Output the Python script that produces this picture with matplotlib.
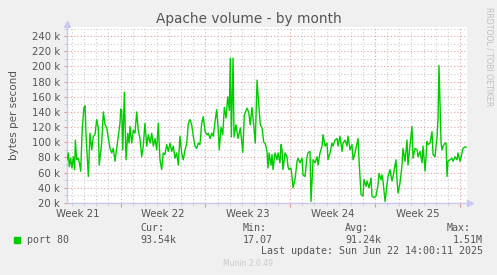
import datetime as dt
import matplotlib
matplotlib.use('Agg')
import matplotlib.pyplot as plt
import matplotlib.dates as mdates
from matplotlib.patches import Rectangle
from matplotlib.ticker import MultipleLocator, FuncFormatter

# time axis: month graph = 33 days ending at last update
end = dt.datetime(2025, 6, 22, 14, 0, 11)
start = end - dt.timedelta(days=33)

# days after start, and traffic in k bytes/s
days = [0.00, 0.11, 0.19, 0.30, 0.41, 0.52, 0.63, 0.69, 0.80, 0.91, 1.02, 1.13,
        1.26, 1.40, 1.49, 1.57, 1.76, 1.90, 2.04, 2.17, 2.31, 2.45, 2.58, 2.66,
        2.86, 3.00, 3.14, 3.28, 3.41, 3.55, 3.69, 3.82, 3.96, 4.10, 4.23, 4.37,
        4.43, 4.51, 4.60, 4.73, 4.87, 5.01, 5.12, 5.20, 5.34, 5.47, 5.61, 5.75,
        5.88, 6.02, 6.16, 6.29, 6.43, 6.58, 6.71, 6.85, 6.99, 7.12, 7.26, 7.40,
        7.53, 7.67, 7.81, 7.94, 8.08, 8.23, 8.36, 8.50, 8.64, 8.77, 8.91, 9.05,
        9.18, 9.32, 9.46, 9.59, 9.74, 9.88, 10.01, 10.15, 10.29, 10.42, 10.56,
        10.70, 10.83, 10.97, 11.11, 11.24, 11.39, 11.53, 11.66, 11.80, 11.94,
        12.07, 12.21, 12.35, 12.48, 12.56, 12.71, 12.85, 12.98, 13.12, 13.26,
        13.39, 13.47, 13.56, 13.70, 13.78, 13.94, 14.11, 14.30, 14.50, 14.63,
        14.85, 14.99, 15.12, 15.26, 15.40, 15.53, 15.68, 15.82, 15.95, 16.09,
        16.23, 16.34, 16.50, 16.58, 16.67, 16.83, 16.91, 17.00, 17.16, 17.33,
        17.41, 17.57, 17.66, 17.74, 17.82, 17.99, 18.15, 18.23, 18.32, 18.48,
        18.56, 18.65, 18.81, 18.98, 19.06, 19.22, 19.39, 19.47, 19.64, 19.80,
        19.88, 20.05, 20.13, 20.30, 20.46, 20.63, 20.71, 20.87, 21.04, 21.12,
        21.29, 21.45, 21.53, 21.70, 21.86, 21.95, 22.11, 22.28, 22.36, 22.52,
        22.69, 22.77, 22.94, 23.10, 23.18, 23.35, 23.51, 23.60, 23.76, 23.93,
        24.01, 24.09, 24.26, 24.42, 24.50, 24.67, 24.75, 24.92, 25.08, 25.16,
        25.33, 25.49, 25.66, 25.74, 25.91, 25.99, 26.07, 26.24, 26.40, 26.48,
        26.65, 26.81, 26.90, 27.14, 27.23, 27.31, 27.47, 27.64, 27.72, 27.89,
        28.05, 28.13, 28.30, 28.46, 28.55, 28.71, 28.88, 28.96, 29.12, 29.29,
        29.37, 29.54, 29.70, 29.78, 29.95, 30.11, 30.20, 30.36, 30.53, 30.61,
        30.69, 30.86, 30.94, 31.02, 31.19, 31.27, 31.35, 31.43, 31.60, 31.76,
        31.85, 32.01, 32.18, 32.26, 32.42, 32.59, 32.67, 32.84, 32.92]
volume_k = [77, 86, 68, 79, 66, 81, 64, 103, 77, 79, 73, 62,
            119, 146, 148, 110, 55, 112, 90, 108, 110, 130, 119, 70,
            99, 140, 123, 119, 105, 92, 86, 92, 75, 92, 108, 125,
            144, 142, 90, 166, 77, 112, 99, 121, 99, 116, 112, 140,
            116, 105, 81, 95, 125, 95, 110, 99, 112, 95, 105, 90,
            125, 77, 64, 86, 84, 97, 88, 99, 88, 95, 79, 86,
            70, 108, 86, 77, 90, 99, 125, 130, 123, 108, 95,
            92, 99, 97, 125, 134, 114, 110, 112, 105, 112,
            108, 127, 143, 116, 90, 120, 110, 146, 132, 160,
            142, 211, 107, 211, 107, 123, 105, 119, 87, 136,
            145, 140, 123, 146, 123, 99, 182, 149, 123, 119,
            100, 99, 88, 66, 86, 70, 84, 64, 86, 77,
            86, 73, 97, 90, 64, 86, 81, 68, 64, 66,
            55, 40, 51, 75, 79, 73, 79, 57, 55, 81,
            86, 88, 22, 77, 73, 81, 70, 86, 95, 110,
            95, 99, 77, 86, 99, 95, 103, 105, 95, 108,
            88, 99, 103, 95, 108, 90, 97, 77, 86, 99,
            105, 77, 31, 29, 51, 42, 49, 40, 53, 29,
            27, 29, 44, 59, 51, 57, 49, 22, 44, 55,
            64, 49, 55, 77, 49, 33, 46, 70, 92, 75,
            103, 70, 97, 121, 79, 92, 90, 81, 88, 73,
            95, 62, 101, 97, 99, 114, 84, 81, 108, 130,
            201, 99, 90, 95, 99, 99, 55, 75, 77, 79,
            75, 81, 77, 86, 75, 86, 92, 94, 93.5]

week_labels = ['Week 21', 'Week 22', 'Week 23', 'Week 24', 'Week 25']
stat_names = ['Cur:', 'Min:', 'Avg:', 'Max:']
stat_values = ['93.54k', '17.07', '91.24k', '1.51M']

times = [start + dt.timedelta(days=d) for d in days]
volume = [v * 1000 for v in volume_k]

text_col = '#555555'
W, H = 497, 275
fig = plt.figure(figsize=(W / 100, H / 100), dpi=100, facecolor='#F0F0F0')
ax = fig.add_axes([67 / W, 1 - 203 / H, 400 / W, 176 / H])
ax.set_facecolor('white')

ax.plot(times, volume, color='#00CC00', lw=1.0, zorder=3)

ax.set_xlim(start, end)
ax.set_ylim(20000, 252000)

# grids: days + sundays on x, 10k/20k on y
ax.xaxis.set_major_locator(mdates.WeekdayLocator(byweekday=mdates.SU))
ax.xaxis.set_minor_locator(mdates.DayLocator())
ax.xaxis.set_major_formatter(plt.NullFormatter())
ax.yaxis.set_major_locator(MultipleLocator(20000))
ax.yaxis.set_minor_locator(MultipleLocator(10000))
ax.yaxis.set_major_formatter(FuncFormatter(lambda v, p: '%d k' % round(v / 1000)))

ax.grid(which='minor', color='#CCCCCC', ls=(0, (1, 2)), lw=0.8)
ax.grid(which='major', color='#E8A0A0', ls=(0, (1, 2)), lw=0.8)
ax.set_axisbelow(True)

ax.tick_params(which='both', colors='#CCCCCC', labelcolor=text_col, labelsize=7.3)
ax.tick_params(axis='x', which='major', length=3, color='#E89090')
ax.tick_params(axis='x', which='minor', length=2)
ax.tick_params(axis='y', which='major', length=2, pad=3, color='#E89090')
ax.tick_params(axis='y', which='minor', length=2)

for s in ['top', 'right']:
    ax.spines[s].set_visible(False)
for s in ['left', 'bottom']:
    ax.spines[s].set_color('#C8C8F0')
    ax.spines[s].set_linewidth(1.0)
ax.plot([1.008], [0], marker='>', ms=4, color='#C8C8F0', transform=ax.transAxes, clip_on=False)
ax.plot([0], [1.015], marker='^', ms=4, color='#C8C8F0', transform=ax.transAxes, clip_on=False)

# week labels in the middle of each week (wednesday noon)
first_mid = dt.datetime(2025, 5, 21, 12, 0)
for i, lab in enumerate(week_labels):
    ax.text(first_mid + dt.timedelta(days=7 * i), -0.035, lab, ha='center', va='top',
            fontsize=7.3, color=text_col, transform=ax.get_xaxis_transform())

fig.text(249 / W, 1 - 19 / H, 'Apache volume - by month', ha='center', va='center',
         fontsize=9.8, color=text_col)
fig.text(14 / W, 1 - 115 / H, 'bytes per second', rotation=90, ha='center', va='center',
         fontsize=7.5, color=text_col)
fig.text(489 / W, 1 - 57 / H, 'RRDTOOL / TOBI OETIKER', rotation=270, ha='center',
         va='center', fontsize=5.6, color='#C0C0C0')

# legend block
mono = 'DejaVu Sans Mono'
fig.patches.append(Rectangle((14 / W, 1 - 243 / H), 6 / W, 6 / H, color='#00CC00',
                             transform=fig.transFigure, figure=fig))
fig.text(27 / W, 1 - 240 / H, 'port 80', family=mono, fontsize=7.2, color=text_col, va='center')
name_x = [140, 243, 345, 447]
for nx, name, val in zip(name_x, stat_names, stat_values):
    fig.text(nx / W, 1 - 228 / H, name, family=mono, fontsize=7.2, color=text_col, va='center')
    if name == 'Max:':
        fig.text(483 / W, 1 - 240 / H, val, family=mono, fontsize=7.2, color=text_col,
                 va='center', ha='right')
    else:
        fig.text(nx / W, 1 - 240 / H, val, family=mono, fontsize=7.2, color=text_col, va='center')
fig.text(483 / W, 1 - 251 / H, 'Last update: Sun Jun 22 14:00:11 2025', family=mono,
         fontsize=7.2, color=text_col, va='center', ha='right')
fig.text(248 / W, 1 - 264 / H, 'Munin 2.0.49', fontsize=5.5, color='#C8C8C8',
         ha='center', va='center')

fig.savefig('out.png', dpi=100, facecolor=fig.get_facecolor())
